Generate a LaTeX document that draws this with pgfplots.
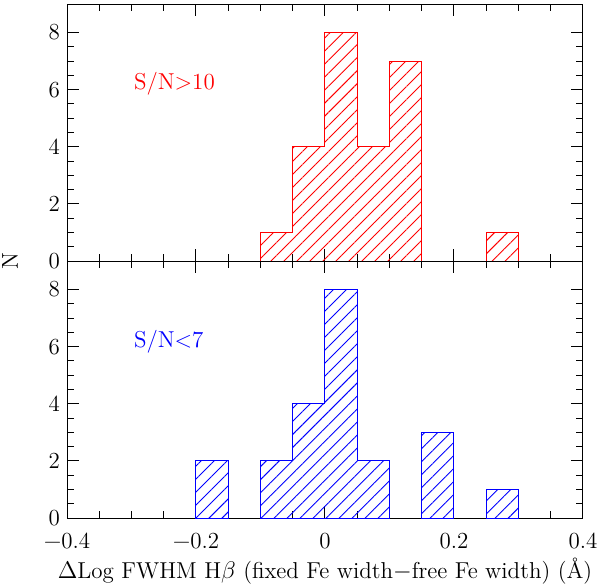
\documentclass[border=0pt]{standalone}
\usepackage{fontspec}
\usepackage{pgfplots}
\pgfplotsset{compat=1.18}
\usetikzlibrary{patterns.meta}

\pgfplotsset{
  panel/.style={
    scale only axis,
    width=258pt, height=128.5pt,
    xmin=-0.4, xmax=0.4, ymin=0, ymax=9,
    xtick={-0.4,-0.2,0,0.2,0.4},
    minor x tick num=3,
    ytick={0,2,4,6,8},
    minor y tick num=3,
    tick align=inside,
    major tick length=6pt,
    minor tick length=3.5pt,
    axis line style={line width=0.5pt},
    every tick/.style={black, line width=0.5pt},
    ticklabel style={font=\fontsize{11.5}{13}\selectfont\addfontfeatures{LetterSpace=8}},
    /pgf/number format/assume math mode=true,
  },
  hist/.style={const plot, line width=0.5pt, draw=#1,
    pattern={Lines[angle=45,distance=4.6pt,line width=0.45pt]}, pattern color=#1},
}

\begin{document}
\begin{tikzpicture}
\useasboundingbox (-33.5pt,-161.5pt) rectangle (266.5pt,130.5pt);
\begin{axis}[panel, name=top, xticklabels={}]
  \addplot[hist=red] coordinates {(-0.1,1) (-0.05,4) (0,8) (0.05,4) (0.1,7) (0.15,7)} \closedcycle;
  \addplot[hist=red] coordinates {(0.25,1) (0.3,1)} \closedcycle;
  \node[anchor=west, text=red, font=\fontsize{11.5}{13}\selectfont\addfontfeatures{LetterSpace=8}] at (axis cs:-0.307,6.2) {S/N>10};
\end{axis}
\begin{axis}[panel, name=bot, at={(top.south west)}, anchor=north west,
  xticklabels={−0.4,−0.2,0,0.2,0.4},
  xlabel={$\Delta$Log FWHM H$\beta$ (fixed Fe width$-$free Fe width) (\AA)},
  xlabel style={font=\fontsize{11.5}{13}\selectfont\addfontfeatures{LetterSpace=9},
    at={(axis description cs:0.5,0)}, anchor=center, yshift=-26.5pt},
  xticklabel style={yshift=-4pt}]
  \addplot[hist=blue] coordinates {(-0.2,2) (-0.15,2)} \closedcycle;
  \addplot[hist=blue] coordinates {(-0.1,2) (-0.05,4) (0,8) (0.05,2) (0.1,2)} \closedcycle;
  \addplot[hist=blue] coordinates {(0.15,3) (0.2,3)} \closedcycle;
  \addplot[hist=blue] coordinates {(0.25,1) (0.3,1)} \closedcycle;
  \node[anchor=west, text=blue, font=\fontsize{11.5}{13}\selectfont\addfontfeatures{LetterSpace=8}] at (axis cs:-0.307,6.17) {S/N<7};
\end{axis}
\node[rotate=90, font=\fontsize{11.5}{13}\selectfont] at (-28.5pt,0pt) {N};
\end{tikzpicture}
\end{document}
